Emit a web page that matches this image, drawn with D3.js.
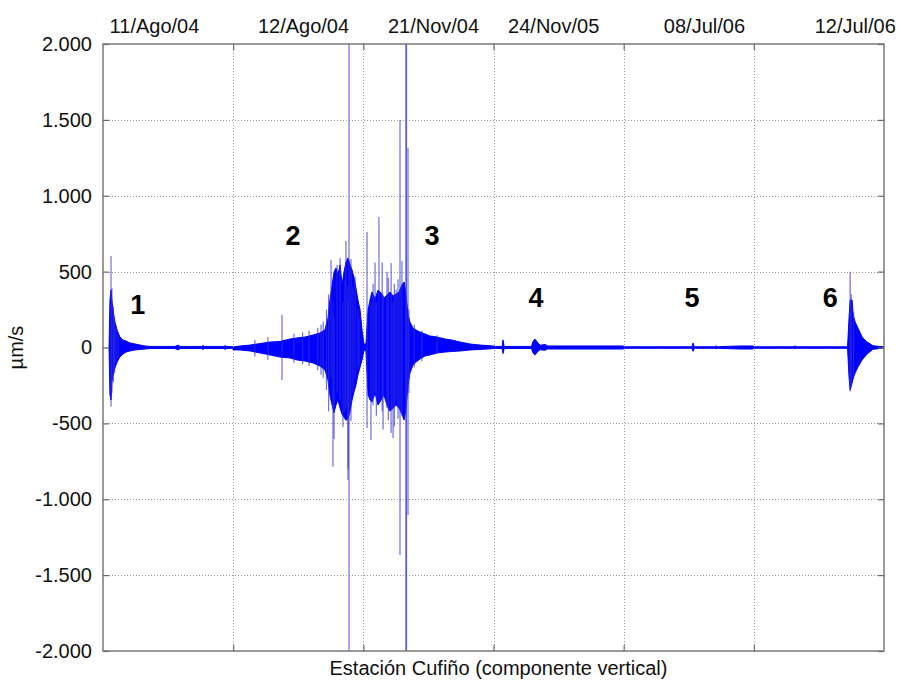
<!DOCTYPE html>
<html>
<head>
<meta charset="utf-8">
<script src="https://cdn.jsdelivr.net/npm/d3@7"></script>
<style>
  html, body { margin: 0; padding: 0; background: #fff; }
  svg { display: block; font-family: "Liberation Sans", Arial, sans-serif; }
</style>
</head>
<body>
<svg id="chart" width="901" height="682"></svg>
<script>
// Six vertical-component records from the Cufiño station, laid end to end.
// Time axis: seconds along the concatenated record (60 s per window).
const recordLabels = ["11/Ago/04", "12/Ago/04", "21/Nov/04", "24/Nov/05", "08/Jul/06", "12/Jul/06"];
const recordLabelTimes = [23.5, 92.2, 152.1, 207.5, 277.0, 346.5];
const windowEdges = [60, 120, 180, 240, 300];
const yTicks = [-2000, -1500, -1000, -500, 0, 500, 1000, 1500, 2000];

// Event numbers and where they sit (time s, amplitude µm/s)
const eventNames = ["1", "2", "3", "4", "5", "6"];
const eventTimes = [16.0, 87.6, 151.7, 199.6, 271.5, 335.2];
const eventAmps  = [280, 735, 735, 326, 326, 326];

// Amplitude envelope of the trace: time (s), max and min (µm/s)
const envTime = [
  2.8, 3.2, 3.7, 4.1, 4.6, 5.5, 6.5, 7.8, 9.2, 10.6, 12.4, 14.8, 17.1, 19.4, 21.7,
  33.2, 34.6, 35.5, 45.6, 46.1, 46.6, 55.8, 56.3, 56.8, 59.9,
  60.0, 63.2, 67.8, 72.4, 77.0, 81.6, 86.2, 89.4, 93.1, 96.8, 100.0, 102.3, 103.7,
  104.6, 105.6, 106.5, 107.4, 108.3, 109.3, 110.2, 111.1, 112.0, 112.9, 113.9,
  114.8, 115.7, 116.6, 117.5, 118.5, 119.4, 120.3, 121.2,
  122.2, 123.1, 124.0, 125.4, 126.8, 128.2, 129.5, 130.9, 132.3, 133.7, 135.1,
  136.5, 137.8, 138.8, 139.7, 140.6, 141.5, 142.9, 144.3, 146.1, 148.4, 150.7,
  154.0, 157.7, 160.9, 164.6, 169.2, 173.8, 177.0, 179.8,
  181.0, 184.0, 184.4, 184.9, 197.5, 198.2, 199.1, 200.5, 201.5, 203.7, 205.0,
  239.7, 240.5, 271.5, 272.0, 272.6, 282.3, 282.6, 283.0, 293.6, 299.6, 300.3,
  318.7, 319.0, 319.3, 343.2,
  343.9, 344.4, 345.3, 345.8, 346.7, 348.0, 349.9, 352.2, 354.9, 359.1, 360.0
];
const envMax = [
  3, 313, 379, 313, 247, 168, 115, 69, 49, 43, 30, 23, 16, 10, 7,
  7, 16, 7, 7, 13, 7, 7, 13, 7, 5,
  3, 10, 16, 26, 36, 40, 56, 63, 69, 82, 96, 115, 194,
  313, 412, 497, 524, 478, 544, 412, 497, 563, 590, 544,
  511, 458, 392, 313, 247, 115, 23, 23,
  247, 313, 366, 320, 379, 359, 326, 346, 366, 339, 352,
  366, 412, 432, 346, 214, 168, 128, 115, 102, 89, 76,
  69, 56, 49, 36, 23, 16, 13, 10,
  7, 7, 50, 7, 7, 40, 56, 30, 15, 20, 10,
  10, 5, 5, 30, 5, 5, 12, 5, 10, 10, 5,
  5, 12, 5, 5,
  200, 313, 313, 214, 168, 128, 69, 36, 12, 5, 5
];
const envMin = [
  -3, -313, -346, -227, -181, -135, -96, -63, -43, -30, -23, -16, -13, -10, -7,
  -7, -16, -7, -7, -13, -7, -7, -13, -7, -5,
  -16, -16, -23, -36, -49, -63, -69, -82, -89, -102, -122, -148, -214,
  -313, -380, -430, -379, -346, -400, -440, -460, -480, -470, -420,
  -346, -293, -247, -181, -128, -82, -16, -23,
  -313, -346, -359, -300, -379, -346, -313, -380, -420, -400, -380,
  -400, -440, -478, -400, -247, -168, -115, -96, -76, -56, -49,
  -36, -30, -26, -23, -16, -13, -10, -7,
  -7, -7, -40, -7, -7, -35, -50, -25, -15, -18, -10,
  -10, -5, -5, -25, -5, -5, -10, -5, -10, -10, -5,
  -5, -10, -5, -5,
  -200, -280, -234, -200, -168, -128, -82, -43, -12, -5, -5
];

// Isolated peaks: time (s), max and min (µm/s); values beyond ±2000 are clipped
const peakTime = [
  3.7, 4.1, 4.8, 5.3, 6.0, 7.0,
  70.0, 76.0, 82.5, 88.0, 92.0, 95.0, 99.0, 100.5, 101.5, 103.0, 104.0,
  105.1, 106.0, 106.5, 107.9, 109.3, 110.6, 111.5, 112.0, 112.9, 113.0,
  113.4, 114.3, 115.2, 116.2, 117.5, 118.0,
  121.7, 123.5, 124.5, 125.4, 126.0, 127.2, 128.7, 129.1, 130.9, 131.5, 132.8,
  133.7, 134.3, 135.1, 136.0, 136.9, 137.8,
  139.6, 139.9, 140.6, 141.0, 143.5, 147.0, 154.0,
  344.4, 344.9, 346.0
];
const peakMax = [
  603, 390, 270, 200, 130, 90,
  50, 70, 214, 90, 100, 110, 130, 150, 170, 250, 350,
  576, 300, 200, 544, 590, 300, 450, 702, 400, 300,
  2600, 583, 400, 470, 250, 200,
  761, 300, 420, 560, 300, 860, 560, 350, 500, 460, 557,
  300, 420, 380, 450, 1500, 570,
  2600, 2600, 1314, 250, 150, 110, 80,
  500, 350, 230
];
const peakMin = [
  -390, -300, -230, -170, -100, -70,
  -60, -80, -214, -100, -110, -120, -150, -180, -200, -280, -420,
  -200, -786, -603, -300, -350, -524, -420, -400, -873, -800,
  -2600, -485, -300, -200, -150, -120,
  -530, -610, -380, -300, -450, -350, -420, -540, -400, -480, -563,
  -596, -520, -350, -470, -1367, -450,
  -2600, -2600, -1104, -300, -130, -90, -40,
  -290, -260, -210
];

const svg = d3.select("#chart");
const plotLeft = 103, plotRight = 884, plotTop = 44, plotBottom = 651;

const x = d3.scaleLinear().domain([0, 360]).range([plotLeft, plotRight]);
const y = d3.scaleLinear().domain([-2000, 2000]).range([plotBottom, plotTop]);

const locale = d3.formatLocale({ decimal: ",", thousands: ".", grouping: [3], currency: ["", ""], minus: "-" });
const fmt = locale.format(",d");

svg.append("defs").append("clipPath").attr("id", "plotClip")
  .append("rect").attr("x", plotLeft).attr("y", plotTop)
  .attr("width", plotRight - plotLeft).attr("height", plotBottom - plotTop);

// Grid
const grid = svg.append("g").attr("stroke", "#9a9a9a").attr("stroke-width", 1).attr("stroke-dasharray", "1,2");
grid.selectAll("line.h").data(yTicks.filter(d => Math.abs(d) < 2000)).join("line")
  .attr("x1", plotLeft).attr("x2", plotRight)
  .attr("y1", d => Math.round(y(d)) + 0.5).attr("y2", d => Math.round(y(d)) + 0.5);
grid.selectAll("line.v").data(windowEdges).join("line")
  .attr("y1", plotTop).attr("y2", plotBottom)
  .attr("x1", d => Math.round(x(d)) + 0.5).attr("x2", d => Math.round(x(d)) + 0.5);

// Trace: filled envelope plus individual peaks
const plot = svg.append("g").attr("clip-path", "url(#plotClip)");
const env = envTime.map((t, i) => ({ t, hi: envMax[i], lo: envMin[i] }));
const area = d3.area().x(d => x(d.t)).y0(d => y(d.lo)).y1(d => y(d.hi));
plot.append("path").datum(env).attr("d", area)
  .attr("fill", "#0000ff").attr("stroke", "#0000ff").attr("stroke-width", 1).attr("stroke-linejoin", "round");

plot.selectAll("line.peak").data(peakTime.map((t, i) => ({ t, hi: peakMax[i], lo: peakMin[i] }))).join("line")
  .attr("x1", d => x(d.t)).attr("x2", d => x(d.t))
  .attr("y1", d => y(d.hi)).attr("y2", d => y(d.lo))
  .attr("stroke", "#3030d8").attr("stroke-opacity", 0.7).attr("stroke-width", 1.2);

// Frame and inward ticks
svg.append("rect").attr("x", plotLeft).attr("y", plotTop)
  .attr("width", plotRight - plotLeft).attr("height", plotBottom - plotTop)
  .attr("fill", "none").attr("stroke", "#7a7a7a").attr("stroke-width", 1.5);

const yAxisL = d3.axisLeft(y).tickValues(yTicks).tickSize(-6).tickPadding(11).tickFormat(fmt);
const gL = svg.append("g").attr("transform", `translate(${plotLeft},0)`).call(yAxisL);
const yAxisR = d3.axisRight(y).tickValues(yTicks).tickSize(-6).tickFormat("");
const gR = svg.append("g").attr("transform", `translate(${plotRight},0)`).call(yAxisR);
const xAxisB = d3.axisBottom(x).tickValues(windowEdges).tickSize(-6).tickFormat("");
const gB = svg.append("g").attr("transform", `translate(0,${plotBottom})`).call(xAxisB);
const xAxisT = d3.axisTop(x).tickValues(windowEdges).tickSize(-6).tickFormat("");
const gT = svg.append("g").attr("transform", `translate(0,${plotTop})`).call(xAxisT);
[gL, gR, gB, gT].forEach(g => {
  g.select(".domain").remove();
  g.selectAll(".tick line").attr("stroke", "#6a6a6a").attr("stroke-width", 1.2);
});
gL.selectAll(".tick text").attr("font-size", 20).attr("fill", "#111")
  .attr("font-family", "'Liberation Sans', Arial, sans-serif");

// Record dates along the top
const gDates = svg.append("g").attr("transform", `translate(0,${plotTop})`)
  .call(d3.axisTop(x).tickValues(recordLabelTimes).tickSize(0).tickPadding(11)
    .tickFormat((d, i) => recordLabels[i]));
gDates.select(".domain").remove();
gDates.selectAll(".tick text").attr("font-size", 20).attr("fill", "#111")
  .attr("font-family", "'Liberation Sans', Arial, sans-serif");

// Event numbers
svg.append("g").selectAll("text").data(eventNames).join("text")
  .attr("x", (d, i) => x(eventTimes[i])).attr("y", (d, i) => y(eventAmps[i]))
  .attr("text-anchor", "middle").attr("dominant-baseline", "central")
  .attr("font-size", 27).attr("font-weight", "bold").attr("fill", "#000")
  .text(d => d);

// Axis titles
svg.append("text").attr("x", (plotLeft + plotRight) / 2 + 5).attr("y", 675)
  .attr("text-anchor", "middle").attr("font-size", 20).attr("fill", "#111")
  .text("Estación Cufiño (componente vertical)");
svg.append("text").attr("transform", `translate(23,${(plotTop + plotBottom) / 2}) rotate(-90)`)
  .attr("text-anchor", "middle").attr("font-size", 20).attr("fill", "#111")
  .text("µm/s");
</script>
</body>
</html>
